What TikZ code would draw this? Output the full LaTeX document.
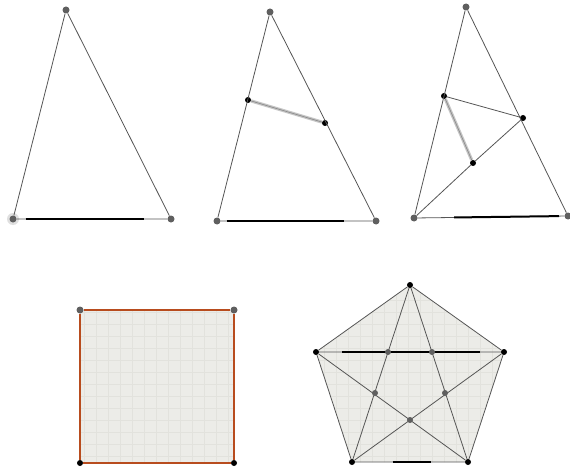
\documentclass[tikz,border=0pt]{standalone}
\usepackage{xcolor}
\usepackage{tikz}
\usetikzlibrary{calc}
\definecolor{dotgray}{RGB}{95,95,95}
\definecolor{edgegray}{RGB}{85,85,85}
\definecolor{panelgray}{RGB}{236,236,232}
\definecolor{gridgray}{RGB}{226,226,221}
\definecolor{rust}{RGB}{184,76,30}

\begin{document}
\begin{tikzpicture}[
				x=1pt, y=-1pt,
				gdot/.style={circle, fill=dotgray, inner sep=0pt, minimum size=7pt},
				bdot/.style={circle, fill=black, inner sep=0pt, minimum size=6pt},
				halo/.style={circle, fill=gray!25, inner sep=0pt, minimum size=12pt},
				edge/.style={draw=edgegray, line width=0.8pt},
				base/.style={draw=black, line width=2pt},
				band/.style={draw=gray!45, line width=3.2pt, postaction={draw=gray!90, line width=0.7pt}},
				rim/.style={draw=rust, line width=1.2pt},
				panel/.style={fill=panelgray},
				gridline/.style={draw=gridgray, line width=0.4pt}
				]
				\useasboundingbox (0,0) rectangle (570,468);

				% first triangle
				\node[halo] at (13,219) {};
				\node[gdot] (a1) at (66,10) {};
				\node[gdot] (a2) at (13,219) {};
				\node[gdot] (a3) at (171,219) {};
				\draw[edge] (a1) -- (a2) -- (a3) -- (a1);
				\draw[base] ($(a2)!0.08!(a3)$) -- ($(a2)!0.83!(a3)$);

				% second triangle
				\node[gdot] (b1) at (270,12) {};
				\node[gdot] (b2) at (217,221) {};
				\node[gdot] (b3) at (376,221) {};
				\node[bdot] (b4) at (248,100) {};
				\node[bdot] (b5) at (325,123) {};
				\draw[edge] (b1) -- (b2) -- (b3) -- (b1);
				\draw[base] ($(b2)!0.06!(b3)$) -- ($(b2)!0.8!(b3)$);
				\draw[band] (b4) -- (b5);

				% third triangle
				\node[gdot] (c1) at (466,7) {};
				\node[gdot] (c2) at (414,218) {};
				\node[gdot] (c3) at (568,216) {};
				\node[bdot] (c4) at (444,96) {};
				\node[bdot] (c5) at (523,118) {};
				\node[bdot] (c6) at (473,163) {};
				\draw[edge] (c1) -- (c2) -- (c3) -- (c1);
				\draw[edge] (c4) -- (c5) -- (c6) -- (c2);
				\draw[base] ($(c2)!0.26!(c3)$) -- ($(c2)!0.94!(c3)$);
				\draw[band] (c4) -- (c6);

				% square
				\fill[panel] (80,310) rectangle (234,463);
				\begin{scope}
					\clip (80,310) rectangle (234,463);
					\draw[gridline, step=12pt] (68,475) grid (246,298);
				\end{scope}
				\node[gdot] (s1) at (80,310) {};
				\node[gdot] (s2) at (234,310) {};
				\node[bdot] (s3) at (234,463) {};
				\node[bdot] (s4) at (80,463) {};
				\draw[rim] (s1) -- (s2) -- (s3) -- (s4) -- (s1);

				% pentagon with star
				\coordinate (p1) at (410,285);
				\coordinate (p2) at (504,352);
				\coordinate (p3) at (468,462);
				\coordinate (p4) at (352,462);
				\coordinate (p5) at (316,352);
				\fill[panel] (p1) -- (p2) -- (p3) -- (p4) -- (p5) -- cycle;
				\begin{scope}
					\clip (p1) -- (p2) -- (p3) -- (p4) -- (p5) -- cycle;
					\draw[gridline, step=12pt] (300,468) grid (516,276);
				\end{scope}
				\node[bdot] (q1) at (p1) {};
				\node[bdot] (q2) at (p2) {};
				\node[bdot] (q3) at (p3) {};
				\node[bdot] (q4) at (p4) {};
				\node[bdot] (q5) at (p5) {};
				\draw[edge] (q1) -- (q2) -- (q3) -- (q4) -- (q5) -- (q1);
				\draw[edge] (q1) -- (q3) -- (q5) -- (q2) -- (q4) -- (q1);
				\draw[base] ($(p5)!0.14!(p2)$) -- ($(p5)!0.87!(p2)$);
				\draw[base] ($(p4)!0.35!(p3)$) -- ($(p4)!0.68!(p3)$);
				\node[gdot, minimum size=6pt] (r1) at (388,352) {};
				\node[gdot, minimum size=6pt] (r2) at (432,352) {};
				\node[gdot, minimum size=6pt] (r3) at (445,393) {};
				\node[gdot, minimum size=6pt] (r4) at (410,420) {};
				\node[gdot, minimum size=6pt] (r5) at (375,393) {};
			\end{tikzpicture}
\end{document}
